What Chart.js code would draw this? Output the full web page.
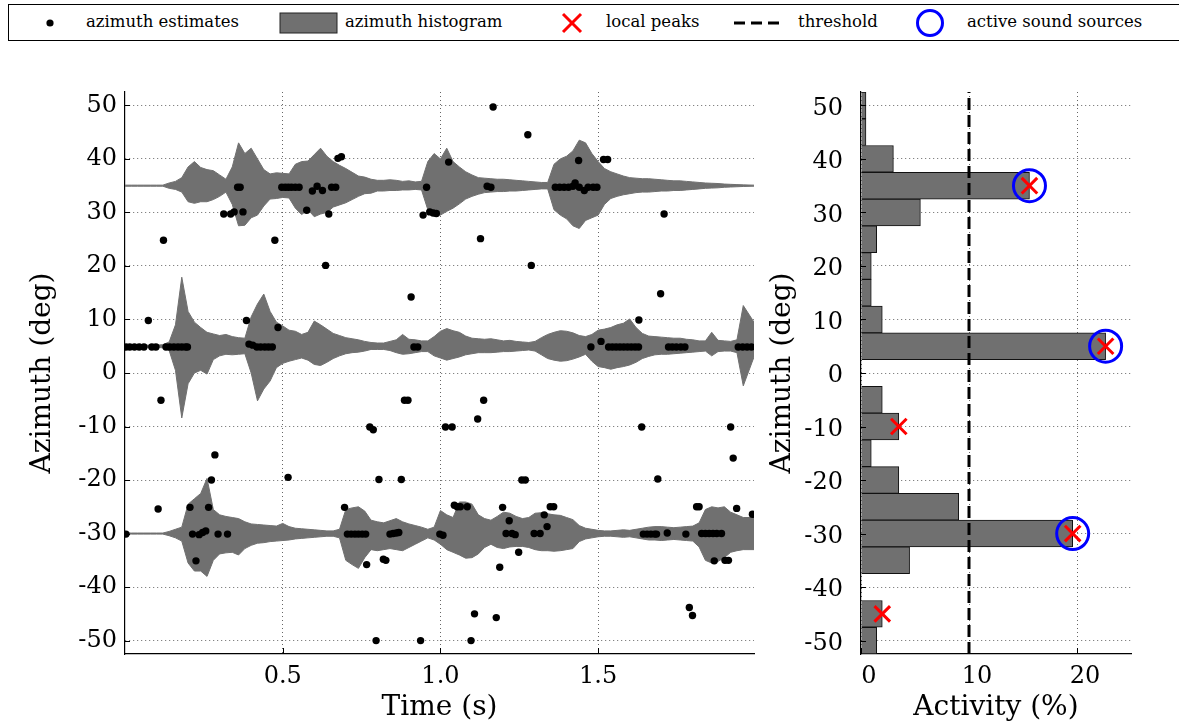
<!DOCTYPE html>
<html>
<head>
<meta charset="utf-8">
<title>Azimuth estimates and histogram</title>
<script src="https://cdn.jsdelivr.net/npm/chart.js@4.4.1/dist/chart.umd.min.js"></script>
<style>
  html, body { margin: 0; padding: 0; background: #fff; }
  body { width: 1179px; height: 727px; position: relative; overflow: hidden; font-family: "DejaVu Serif", serif; }
  canvas { position: absolute; top: 0; }
  #legend { position: absolute; left: 8px; top: 4px; width: 1190px; height: 37px; border: 1.5px solid #000; box-sizing: border-box; }
  #legend svg { position: absolute; left: 0; top: 0; }
  #legend span { position: absolute; top: 7px; font-size: 16.5px; line-height: 20px; white-space: nowrap; color: #000; }
</style>
</head>
<body>
<div id="legend">
  <svg width="1190" height="37">
    <circle cx="41" cy="18" r="3.6" fill="#000"/>
    <rect x="271" y="8" width="57" height="20" fill="#707070" stroke="#222" stroke-width="1"/>
    <line x1="554" y1="9" x2="572" y2="27" stroke="#f00" stroke-width="3"/>
    <line x1="572" y1="9" x2="554" y2="27" stroke="#f00" stroke-width="3"/>
    <line x1="725" y1="18" x2="770" y2="18" stroke="#000" stroke-width="3" stroke-dasharray="11,6"/>
    <circle cx="921" cy="18" r="12.5" fill="none" stroke="#00f" stroke-width="3"/>
  </svg>
  <span style="left:77px">azimuth estimates</span>
  <span style="left:336px">azimuth histogram</span>
  <span style="left:597px">local peaks</span>
  <span style="left:789px">threshold</span>
  <span style="left:958px">active sound sources</span>
</div>
<canvas id="timeChart" width="770" height="727" style="left:0px"></canvas>
<canvas id="histChart" width="429" height="727" style="left:750px"></canvas>
<script>
// tick values
const timeTicks = [0.5, 1, 1.5];
const azimuthTicks = [50, 40, 30, 20, 10, 0, -10, -20, -30, -40, -50];
const activityTicks = [0, 10, 20];

// azimuth estimates (time in s, azimuth in deg)
const estTime = [
  0.122, 0.313, 0.335, 0.346, 0.374, 0.357, 0.365, 0.475, 0.497, 0.508, 0.518, 0.528, 0.540, 0.552,
  0.576, 0.594, 0.609, 0.626, 0.636, 0.646, 0.655, 0.668, 0.675, 0.686, 0.945, 0.956, 0.966, 0.977,
  0.987, 1.026, 1.127, 1.148, 1.160, 1.167, 1.277, 1.288, 1.364, 1.378, 1.392, 1.406, 1.420, 1.427,
  1.440, 1.456, 1.468, 1.484, 1.496, 1.438, 1.517, 1.530, 1.709,
  0.003, 0.015, 0.030, 0.045, 0.060, 0.085, 0.098, 0.074, 0.114, 0.130, 0.142, 0.155, 0.168, 0.180,
  0.192, 0.198, 0.385, 0.393, 0.405, 0.418, 0.430, 0.443, 0.455, 0.467, 0.485, 0.285, 0.274, 0.517,
  0.907, 0.776, 0.787, 0.886, 0.897, 0.916, 0.928, 1.016, 1.037, 0.805, 0.876, 1.698, 1.629, 1.477,
  1.509, 1.533, 1.545, 1.557, 1.569, 1.581, 1.593, 1.605, 1.617, 1.628, 1.723, 1.735, 1.748, 1.762,
  1.775, 1.944, 1.958, 1.972, 1.986, 1.137, 1.118, 1.638, 1.920, 1.928, 1.258, 1.269, 1.689,
  0.003, 0.105, 0.206, 0.265, 0.214, 0.235, 0.246, 0.256, 0.295, 0.325, 0.225, 0.696, 0.705, 0.717,
  0.729, 0.740, 0.752, 0.763, 0.766, 0.819, 0.827, 0.840, 0.850, 0.860, 0.868, 0.796, 0.937, 0.998,
  1.008, 1.044, 1.053, 1.063, 1.085, 1.197, 1.218, 1.208, 1.227, 1.237, 1.248, 1.188, 1.297, 1.316,
  1.329, 1.338, 1.348, 1.359, 1.108, 1.177, 1.097, 1.643, 1.655, 1.667, 1.679, 1.685, 1.719, 1.778,
  1.828, 1.840, 1.852, 1.864, 1.876, 1.891, 1.812, 1.820, 1.868, 1.902, 1.913, 1.939, 1.989, 1.789,
  1.799
];
const estAzimuth = [
  24.8, 29.7, 29.7, 30.1, 30.1, 34.7, 34.7, 24.8, 34.7, 34.7, 34.7, 34.7, 34.7, 34.7,
  30.4, 34.0, 34.9, 34.1, 20.1, 29.7, 34.7, 34.7, 40.1, 40.4, 29.5, 34.7, 30.1, 29.9,
  29.8, 39.4, 25.1, 34.9, 34.7, 49.7, 44.5, 20.1, 34.7, 34.7, 34.7, 34.7, 34.9, 35.5,
  34.7, 34.1, 34.7, 34.7, 34.7, 39.7, 39.9, 39.9, 29.7,
  4.85, 4.85, 4.85, 4.85, 4.85, 4.85, 4.85, 9.8, -5.1, 4.85, 4.85, 4.85, 4.85, 4.85,
  4.85, 4.85, 9.8, 5.4, 5.2, 4.85, 4.85, 4.85, 4.85, 4.85, 8.5, -15.3, -20.0, -19.5,
  14.2, -10.1, -10.6, -5.1, -5.1, 4.85, 4.85, -10.1, -10.1, -19.9, -19.9, 14.8, 9.9, 4.85,
  5.9, 4.85, 4.85, 4.85, 4.85, 4.85, 4.85, 4.85, 4.85, 4.85, 4.85, 4.85, 4.85, 4.85,
  4.85, 4.85, 4.85, 4.85, 4.85, -5.1, -8.6, -10.1, -10.1, -15.9, -20.0, -20.0, -19.8,
  -30.1, -25.4, -25.1, -25.1, -30.1, -30.2, -29.8, -29.5, -30.1, -30.1, -35.1, -25.1, -30.1, -30.1,
  -30.1, -30.1, -30.1, -30.1, -35.8, -34.8, -35.0, -30.1, -30.0, -29.9, -29.8, -50.0, -50.0, -30.1,
  -30.3, -24.7, -25.0, -25.0, -25.0, -25.1, -27.6, -30.0, -30.0, -30.2, -33.5, -36.3, -30.0, -30.0,
  -26.5, -28.7, -25.0, -25.0, -45.0, -45.7, -50.0, -30.1, -30.1, -30.1, -30.1, -30.1, -29.9, -30.1,
  -30.0, -30.0, -30.0, -30.0, -30.0, -30.0, -25.0, -25.0, -35.1, -35.0, -35.0, -25.3, -26.4, -43.8,
  -45.3
];

// signal envelopes drawn around each source direction (offsets in deg)
const waveTime = [
  0.00, 0.02, 0.04, 0.06, 0.08, 0.10, 0.12, 0.14, 0.16, 0.18,
  0.20, 0.22, 0.24, 0.26, 0.28, 0.30, 0.32, 0.34, 0.36, 0.38,
  0.40, 0.42, 0.44, 0.46, 0.48, 0.50, 0.52, 0.54, 0.56, 0.58,
  0.60, 0.62, 0.64, 0.66, 0.68, 0.70, 0.72, 0.74, 0.76, 0.78,
  0.80, 0.82, 0.84, 0.86, 0.88, 0.90, 0.92, 0.94, 0.96, 0.98,
  1.00, 1.02, 1.04, 1.06, 1.08, 1.10, 1.12, 1.14, 1.16, 1.18,
  1.20, 1.22, 1.24, 1.26, 1.28, 1.30, 1.32, 1.34, 1.36, 1.38,
  1.40, 1.42, 1.44, 1.46, 1.48, 1.50, 1.52, 1.54, 1.56, 1.58,
  1.60, 1.62, 1.64, 1.66, 1.68, 1.70, 1.72, 1.74, 1.76, 1.78,
  1.80, 1.82, 1.84, 1.86, 1.88, 1.90, 1.92, 1.94, 1.96, 1.994
];
const wave35Up = [
  0.1, 0.1, 0.1, 0.1, 0.1, 0.1, 0.1, 0.5, 0.8, 1.5,
  3.5, 4.5, 3.4, 3.0, 2.8, 2.0, 1.2, 3.5, 8.0, 6.0,
  7.0, 5.0, 3.0, 2.2, 2.4, 2.3, 2.2, 4.0, 4.5, 4.6,
  5.8, 7.0, 5.5, 4.5, 3.8, 3.2, 2.5, 1.8, 1.6, 1.2,
  1.0, 1.0, 1.1, 1.0, 0.8, 0.9, 0.7, 0.8, 4.5, 6.0,
  5.0, 7.0, 4.5, 3.5, 2.6, 2.0, 1.5, 1.4, 1.3, 1.2,
  1.2, 1.1, 1.0, 0.9, 0.8, 0.7, 0.6, 0.6, 4.0, 5.0,
  5.5, 6.5, 8.5, 8.0, 6.0, 4.5, 3.2, 2.6, 2.2, 1.8,
  1.5, 1.4, 1.3, 1.3, 1.2, 1.1, 1.0, 0.9, 0.9, 0.8,
  0.7, 0.6, 0.5, 0.45, 0.4, 0.3, 0.25, 0.2, 0.15, 0.1
];
const wave35Down = [
  -0.1, -0.1, -0.1, -0.1, -0.1, -0.1, -0.1, -0.5, -0.7, -1.2,
  -3.0, -3.3, -3.0, -3.0, -2.6, -2.0, -1.2, -3.5, -7.5, -7.4,
  -6.0, -5.5, -3.8, -2.5, -2.4, -2.2, -2.3, -4.2, -5.4, -4.5,
  -5.8, -5.3, -5.0, -4.0, -3.6, -3.2, -2.6, -2.0, -1.5, -1.4,
  -1.0, -1.0, -0.9, -0.9, -0.8, -0.8, -0.7, -0.8, -4.5, -5.5,
  -5.5, -4.8, -4.2, -3.4, -2.5, -2.0, -1.6, -1.3, -1.2, -1.1,
  -1.1, -1.0, -1.0, -0.9, -0.8, -0.7, -0.6, -0.6, -4.5, -5.5,
  -6.2, -7.5, -8.0, -6.5, -6.0, -5.5, -3.5, -2.4, -2.0, -1.7,
  -1.5, -1.3, -1.2, -1.2, -1.1, -1.0, -1.0, -0.9, -0.9, -0.8,
  -0.7, -0.6, -0.5, -0.45, -0.4, -0.3, -0.25, -0.2, -0.15, -0.1
];
const wave5Up = [
  0.2, 0.2, 0.2, 0.2, 0.2, 0.2, 0.3, 0.8, 4.0, 12.9,
  6.5, 4.5, 3.5, 2.6, 2.3, 2.0, 2.2, 1.8, 1.6, 1.5,
  5.5, 7.9, 9.75, 6.5, 4.5, 3.8, 3.0, 2.8, 2.2, 2.6,
  4.7, 4.0, 3.2, 2.4, 2.0, 1.6, 1.4, 1.2, 0.9, 0.7,
  0.6, 0.6, 0.9, 1.2, 2.2, 1.3, 1.2, 1.0, 1.0, 1.8,
  2.8, 3.3, 2.9, 2.6, 1.9, 1.5, 1.4, 1.3, 1.4, 1.2,
  1.0, 1.1, 0.9, 0.8, 0.7, 0.9, 1.6, 2.2, 2.6, 2.9,
  2.8, 2.5, 2.0, 1.8, 2.2, 3.0, 3.2, 3.5, 4.0, 4.3,
  5.1, 3.5, 2.4, 1.9, 1.8, 1.7, 1.6, 1.5, 1.5, 1.3,
  1.2, 1.0, 1.0, 2.6, 1.1, 1.0, 0.9, 1.2, 7.6, 4.5
];
const wave5Down = [
  -0.2, -0.2, -0.2, -0.2, -0.2, -0.2, -0.3, -0.8, -4.5, -13.4,
  -7.0, -5.0, -4.5, -5.2, -2.5, -1.8, -1.5, -1.6, -1.5, -1.4,
  -5.0, -10.2, -8.0, -6.5, -4.0, -3.2, -2.8, -2.5, -2.2, -2.6,
  -3.4, -3.6, -3.0, -2.3, -1.8, -1.4, -1.2, -1.1, -0.9, -0.6,
  -0.6, -0.6, -0.8, -1.2, -1.5, -1.4, -1.2, -1.0, -1.0, -1.8,
  -2.2, -2.6, -2.3, -2.0, -1.6, -1.4, -1.2, -1.2, -1.2, -1.1,
  -1.0, -1.0, -0.9, -0.8, -0.7, -0.9, -1.6, -2.3, -2.6, -2.8,
  -2.7, -2.4, -2.0, -1.5, -2.8, -3.8, -4.0, -4.3, -4.0, -3.8,
  -3.5, -3.0, -2.3, -1.9, -1.6, -1.5, -1.5, -1.4, -1.3, -1.2,
  -1.1, -1.0, -0.9, -1.8, -1.0, -0.9, -0.9, -1.2, -7.4, -2.0
];
const waveM30Up = [
  0.1, 0.1, 0.1, 0.1, 0.1, 0.1, 0.1, 0.4, 0.8, 1.2,
  5.5, 6.5, 7.5, 10.3, 4.5, 3.5, 3.2, 3.0, 2.8, 2.2,
  1.8, 1.7, 1.6, 1.5, 1.4, 1.9, 1.3, 1.0, 0.9, 0.8,
  0.7, 0.6, 0.5, 0.5, 0.8, 4.5, 4.8, 5.0, 4.2, 2.5,
  2.2, 2.0, 2.4, 2.8, 2.2, 1.8, 1.5, 1.2, 0.8, 1.2,
  4.3, 3.5, 3.0, 5.9, 5.9, 5.5, 3.5, 2.8, 2.5, 3.2,
  4.0, 3.8, 3.2, 2.8, 3.0, 3.8, 3.9, 3.7, 3.5, 3.4,
  3.0, 2.6, 1.5, 1.0, 0.8, 0.6, 0.5, 0.5, 0.6, 0.7,
  0.6, 0.8, 1.0, 1.2, 1.3, 1.3, 1.2, 1.1, 1.2, 1.3,
  1.4, 2.0, 4.5, 5.0, 4.8, 5.0, 4.0, 3.5, 3.0, 3.0
];
const waveM30Down = [
  -0.1, -0.1, -0.1, -0.1, -0.1, -0.1, -0.1, -0.4, -0.8, -1.4,
  -5.5, -7.0, -7.0, -8.0, -5.0, -3.8, -3.6, -3.5, -4.0, -2.8,
  -2.2, -1.8, -1.7, -1.5, -1.4, -1.3, -1.2, -1.0, -0.9, -0.8,
  -0.7, -0.6, -0.5, -0.5, -0.8, -5.0, -5.8, -6.5, -4.5, -3.0,
  -3.2, -3.0, -2.8, -3.0, -3.2, -2.6, -2.0, -1.4, -0.8, -1.2,
  -2.0, -3.0, -3.5, -4.0, -4.6, -4.5, -3.8, -2.6, -2.0, -2.6,
  -2.8, -2.5, -2.4, -2.4, -2.6, -3.0, -3.2, -3.2, -3.3, -3.2,
  -3.0, -2.8, -1.5, -1.0, -0.8, -0.6, -0.5, -0.5, -0.6, -0.7,
  -0.6, -0.8, -1.0, -1.2, -1.2, -1.3, -1.2, -1.1, -1.2, -1.3,
  -1.4, -2.5, -5.0, -5.5, -5.2, -4.5, -3.5, -3.2, -3.0, -3.0
];

// azimuth histogram (bin centres in deg, activity in %)
const histAzimuth = [50, 45, 40, 35, 30, 25, 20, 15, 10, 5, 0, -5, -10, -15, -20, -25, -30, -35, -40, -45, -50];
const histActivity = [0.46, 0.46, 3.0, 15.6, 5.5, 1.45, 0.95, 0.95, 1.97, 22.65, 0, 1.97, 3.5, 0.95, 3.5, 9.05, 19.6, 4.5, 0, 1.97, 1.45];
const peakAzimuth = [35, 5, -10, -30, -45];
const peakActivity = [15.6, 22.65, 3.5, 19.6, 1.97];
const sourceAzimuth = [35, 5, -30];
const sourceActivity = [15.6, 22.65, 19.6];
const threshold = 10;

const AZ_MIN = -52.5, AZ_MAX = 52.5;
const GRAY = '#707070';

Chart.defaults.font.family = "'DejaVu Serif', serif";
Chart.defaults.color = '#000';

// small inward tick marks like the original axes
const inwardTicks = {
  id: 'inwardTicks',
  afterDraw(chart) {
    const {ctx, chartArea, scales} = chart;
    ctx.save();
    ctx.strokeStyle = '#000';
    ctx.lineWidth = 1;
    scales.y.ticks.forEach(t => {
      const py = Math.round(scales.y.getPixelForValue(t.value)) + 0.5;
      ctx.beginPath();
      ctx.moveTo(chartArea.left, py);
      ctx.lineTo(chartArea.left + 5, py);
      ctx.stroke();
    });
    scales.x.ticks.forEach(t => {
      const px = Math.round(scales.x.getPixelForValue(t.value)) + 0.5;
      ctx.beginPath();
      ctx.moveTo(px, chartArea.bottom);
      ctx.lineTo(px, chartArea.bottom - 6);
      ctx.stroke();
    });
    ctx.restore();
  }
};

function gridOpts() {
  return { display: true, color: 'rgba(0,0,0,0.6)', lineWidth: 1, drawTicks: false, offset: false };
}
function borderOpts() {
  return { display: true, color: '#000', width: 1.2, dash: [1, 3] };
}

function envelope(center, offsets) {
  return waveTime.map((t, i) => ({ x: t, y: center + offsets[i] }));
}
function waveSets(center, up, down) {
  return [
    { type: 'line', data: envelope(center, up), borderColor: GRAY, backgroundColor: GRAY, borderWidth: 1,
      pointRadius: 0, tension: 0, fill: '+1', order: 5 },
    { type: 'line', data: envelope(center, down), borderColor: GRAY, backgroundColor: GRAY, borderWidth: 1,
      pointRadius: 0, tension: 0, fill: false, order: 5 }
  ];
}

// left panel: estimates over time
new Chart(document.getElementById('timeChart'), {
  type: 'scatter',
  data: {
    datasets: [
      { data: estTime.map((t, i) => ({ x: t, y: estAzimuth[i] })), backgroundColor: '#000',
        borderWidth: 0, pointRadius: 3.7, order: 0 },
      ...waveSets(35, wave35Up, wave35Down),
      ...waveSets(5, wave5Up, wave5Down),
      ...waveSets(-30, waveM30Up, waveM30Down)
    ]
  },
  options: {
    responsive: false,
    animation: false,
    devicePixelRatio: 1,
    events: [],
    layout: { padding: { left: 0, top: 92, right: 16, bottom: 0 } },
    plugins: { legend: { display: false }, tooltip: { enabled: false } },
    scales: {
      x: {
        type: 'linear', min: 0, max: 1.994, offset: false,
        afterBuildTicks: s => { s.ticks = timeTicks.map(v => ({ value: v })); },
        afterFit: s => { s.height = 73; },
        grid: gridOpts(), border: borderOpts(),
        ticks: { font: { size: 24 }, padding: 8, maxRotation: 0, autoSkip: false },
        title: { display: true, text: 'Time (s)', font: { size: 28 }, padding: { top: 0, bottom: 2 } }
      },
      y: {
        type: 'linear', min: AZ_MIN, max: AZ_MAX, offset: false,
        afterBuildTicks: s => { s.ticks = azimuthTicks.map(v => ({ value: v })); },
        afterFit: s => { s.width = 125; },
        grid: gridOpts(), border: borderOpts(),
        ticks: { font: { size: 24 }, padding: 8, autoSkip: false },
        title: { display: true, text: 'Azimuth (deg)', font: { size: 28 }, padding: { top: 26, bottom: 0 } }
      }
    }
  },
  plugins: [inwardTicks]
});

// right panel: histogram of estimates
new Chart(document.getElementById('histChart'), {
  type: 'scatter',
  data: {
    datasets: [
      { type: 'scatter', data: sourceAzimuth.map((a, i) => ({ x: sourceActivity[i], y: a })),
        pointStyle: 'circle', pointRadius: 16, borderColor: '#0000ff', borderWidth: 3,
        backgroundColor: 'rgba(0,0,0,0)', order: 0 },
      { type: 'scatter', data: peakAzimuth.map((a, i) => ({ x: peakActivity[i], y: a })),
        pointStyle: 'crossRot', pointRadius: 11, borderColor: '#ff0000', borderWidth: 3, order: 1 },
      { type: 'line', data: [{ x: threshold, y: AZ_MIN }, { x: threshold, y: AZ_MAX }],
        borderColor: '#000', borderWidth: 3, borderDash: [12, 5], pointRadius: 0, fill: false, order: 2 },
      { type: 'bar', indexAxis: 'y', data: histAzimuth.map((a, i) => ({ x: histActivity[i], y: a })),
        backgroundColor: GRAY, borderColor: '#111', borderWidth: 1,
        barPercentage: 1, categoryPercentage: 1, order: 3 }
    ]
  },
  options: {
    responsive: false,
    animation: false,
    devicePixelRatio: 1,
    events: [],
    layout: { padding: { left: 0, top: 92, right: 48, bottom: 0 } },
    plugins: { legend: { display: false }, tooltip: { enabled: false } },
    scales: {
      x: {
        type: 'linear', min: 0, max: 25, offset: false,
        afterBuildTicks: s => { s.ticks = activityTicks.map(v => ({ value: v })); },
        afterFit: s => { s.height = 73; },
        grid: gridOpts(), border: borderOpts(),
        ticks: { font: { size: 24 }, padding: 8, labelOffset: 8, maxRotation: 0, autoSkip: false },
        title: { display: true, text: 'Activity (%)', font: { size: 28 }, padding: { top: 0, bottom: 2 } }
      },
      y: {
        type: 'linear', min: AZ_MIN, max: AZ_MAX, offset: false,
        afterBuildTicks: s => { s.ticks = azimuthTicks.map(v => ({ value: v })); },
        afterFit: s => { s.width = 111; },
        grid: gridOpts(), border: borderOpts(),
        ticks: { font: { size: 24 }, padding: 18, labelOffset: 3, autoSkip: false },
        title: { display: true, text: 'Azimuth (deg)', font: { size: 28 }, padding: { top: 16, bottom: 0 } }
      }
    }
  },
  plugins: [inwardTicks]
});
</script>
</body>
</html>
